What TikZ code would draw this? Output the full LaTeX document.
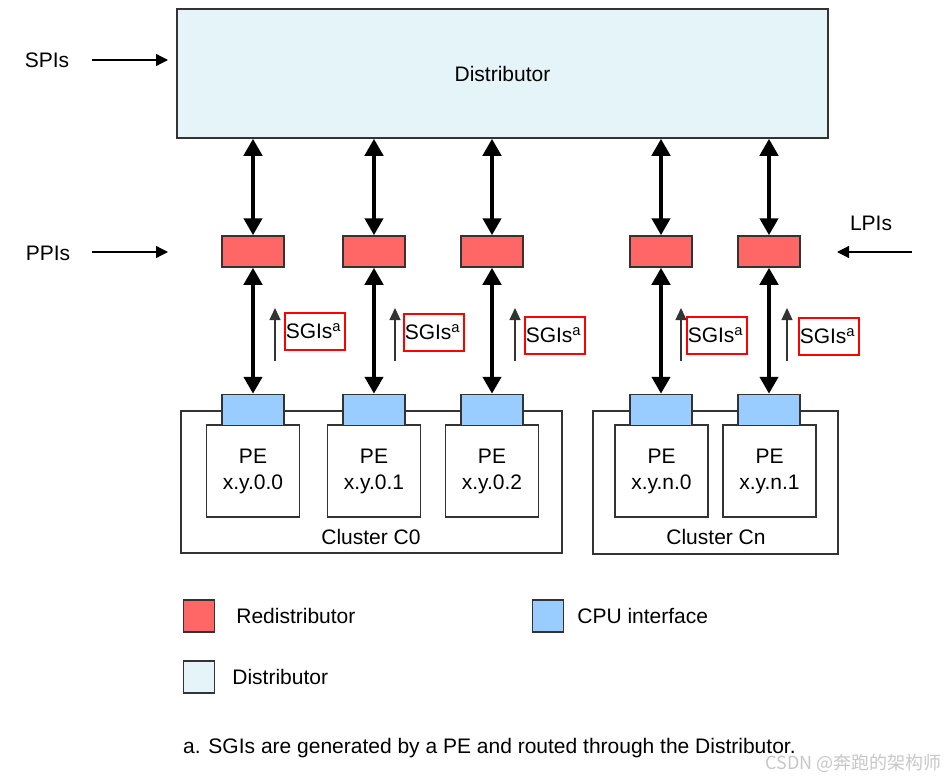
\documentclass[tikz,border=0pt]{standalone}
\usepackage{fontspec}
\setmainfont{Liberation Sans}
\newfontfamily\cjkfont{Noto Sans CJK SC}
\usetikzlibrary{arrows.meta,positioning}
\usepackage{xcolor}
\definecolor{distfill}{HTML}{E5F4F8}
\definecolor{redifill}{HTML}{FF6666}
\definecolor{cpufill}{HTML}{99CCFF}
\colorlet{edgegray}{black!80}
\newcommand{\lblfont}{\fontsize{21}{26}\selectfont}
\newcommand{\sgitxt}{SGIs\textsuperscript{a}}
\tikzset{
    diststy/.style={draw=edgegray,line width=1.5pt,fill=distfill,rectangle,minimum width=651pt,minimum height=129pt,inner sep=0pt},
    redsty/.style={draw=edgegray,line width=1.5pt,fill=redifill,rectangle,minimum width=62pt,minimum height=31pt,inner sep=0pt},
    cpusty/.style={draw=edgegray,line width=1.5pt,fill=cpufill,rectangle,minimum width=62pt,minimum height=31pt,inner sep=0pt},
    pesty/.style={draw=edgegray,line width=1.2pt,fill=white,rectangle,minimum width=93pt,minimum height=92pt,align=center,inner sep=0pt},
    cluststy/.style={draw=edgegray,line width=1.2pt},
    sgisty/.style={draw=red,line width=1.6pt,rectangle,text width=58pt,inner xsep=1pt,inner ysep=0pt,minimum height=37pt,align=left,anchor=north west},
    keysty/.style={draw=edgegray,line width=1.3pt,rectangle,minimum width=31pt,minimum height=32pt,inner sep=0pt},
    busarr/.style={line width=4.5pt,{Triangle[width=18pt,length=17pt]}-{Triangle[width=18pt,length=17pt]}},
    sgiarr/.style={line width=1.3pt,draw=black!80,-{Triangle[width=11pt,length=12pt]}},
    inarr/.style={line width=1.3pt,-{Triangle[width=12pt,length=12pt]}},
}

\begin{document}
\begin{tikzpicture}[x=1pt,y=-1pt,font=\lblfont,inner sep=0pt]
\useasboundingbox (0,0) rectangle (947,776);

% distributor and interrupt sources
\node[diststy] (dist) at (502.5,73.5) {Distributor};
\node (spi) at (47,60) {SPIs};
\node (ppi) at (48,253) {PPIs};
\node (lpi) at (871,223) {LPIs};
\coordinate (spi-in) at (168,60);
\coordinate (ppi-in) at (168,252);
\coordinate (lpi-in) at (837,252);
\draw[inarr] ([xshift=23pt]spi.east |- spi-in) -- (spi-in);
\draw[inarr] ([xshift=22pt]ppi.east |- ppi-in) -- (ppi-in);
\draw[inarr] ([xshift=20pt]lpi.east |- lpi-in) -- (lpi-in);

% clusters
\draw[cluststy] (181,411) rectangle (562,553);
\draw[cluststy] (593,411) rectangle (838,554);
\node (c0name) at (371,537) {Cluster C0};
\node (cnname) at (716,537) {Cluster Cn};

% PEs
\node[pesty] (p1) at (253,471) {PE\\x.y.0.0};
\node[pesty] (p2) at (374,471) {PE\\x.y.0.1};
\node[pesty] (p3) at (492,471) {PE\\x.y.0.2};
\node[pesty] (p4) at (661.5,471) {PE\\x.y.n.0};
\node[pesty] (p5) at (769.5,471) {PE\\x.y.n.1};

% redistributors and cpu interfaces
\node[redsty] (r1) at (253,251.5) {};
\node[redsty] (r2) at (374,251.5) {};
\node[redsty] (r3) at (492,251.5) {};
\node[redsty] (r4) at (661,251.5) {};
\node[redsty] (r5) at (769,251.5) {};
\node[cpusty] (c1) at (253,410) {};
\node[cpusty] (c2) at (374,410) {};
\node[cpusty] (c3) at (492,410) {};
\node[cpusty] (c4) at (661,410) {};
\node[cpusty] (c5) at (769,410) {};

\foreach \i in {1,...,5}{
    \draw[busarr] (dist.south -| r\i) -- (r\i.north);
    \draw[busarr] (r\i.south) -- (c\i.north);
}

% SGI labels
\foreach \i/\ax/\bx/\by in {1/275/284/312,2/395/403/313,3/515/524/316,4/681/686/316,5/787/798/317}{
    \node[sgisty] (s\i) at (\bx,\by) {\sgitxt};
    \coordinate (g\i-s) at (\ax,361);
    \coordinate (g\i-e) at (\ax,308);
    \draw[sgiarr] (g\i-s) -- (g\i-e);
}

% key
\node[keysty,fill=redifill] (k1) at (199,616) {};
\node[right=21pt of k1] (k1txt) {Redistributor};
\node[keysty,fill=cpufill] (k2) at (548,616) {};
\node[right=13pt of k2] (k2txt) {CPU interface};
\node[keysty,fill=distfill] (k3) at (199,677) {};
\node[right=17pt of k3] (k3txt) {Distributor};

\node[anchor=west] (note) at (183,748) {a. SGIs are generated by a PE and routed through the Distributor.};
\node[anchor=east,text=black!22,font=\fontsize{18}{20}\selectfont\cjkfont] (wm) at (942,763) {CSDN @奔跑的架构师};
\end{tikzpicture}
\end{document}
